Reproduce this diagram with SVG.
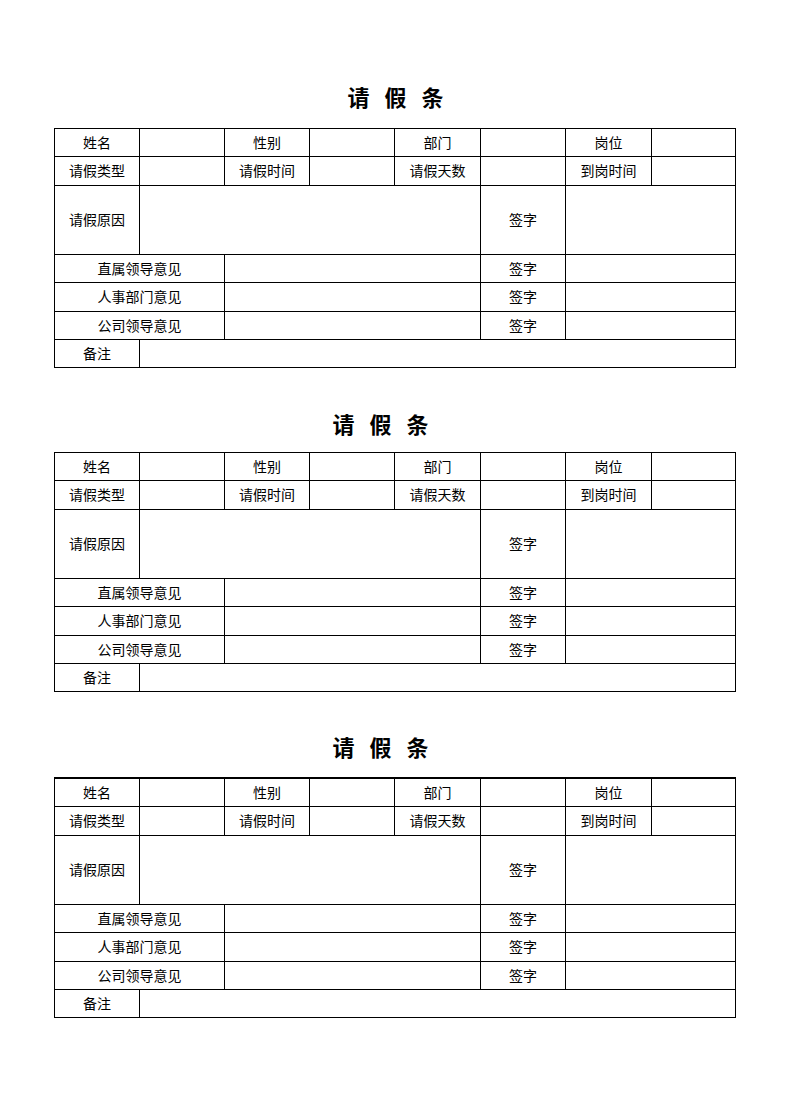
<svg xmlns="http://www.w3.org/2000/svg" width="790" height="1119" viewBox="0 0 790 1119">
<style>
.bg{fill:#fff}
.ln{stroke:#000;stroke-width:1;fill:none;shape-rendering:crispEdges}
.thick{stroke:#000;stroke-width:2;fill:none;shape-rendering:crispEdges}
.t{font-family:"Noto Sans CJK SC","Noto Sans CJK JP",sans-serif;font-size:14px;fill:#000;text-anchor:middle;dominant-baseline:central}
.title{font-family:"Noto Sans CJK SC","Noto Sans CJK JP",sans-serif;font-size:22px;font-weight:bold;fill:#000;text-anchor:middle;dominant-baseline:central;word-spacing:10px}
</style>
<defs>
<g id="grid">
<rect class="ln" x="54.5" y="128.5" width="681" height="239"/>
<path class="ln" d="M54.5 156.5H735.5M54.5 185.5H735.5M54.5 254.5H735.5M54.5 282.5H735.5M54.5 311.5H735.5M54.5 339.5H735.5
M139.5 128.5V254.5M139.5 339.5V367.5
M224.5 128.5V185.5M224.5 254.5V339.5
M309.5 128.5V185.5M394.5 128.5V185.5
M480.5 128.5V339.5M565.5 128.5V339.5M651.5 128.5V185.5"/>
</g>
<g id="labels">
<text class="t" x="97" y="141.5">姓名</text>
<text class="t" x="267" y="141.5">性别</text>
<text class="t" x="437.5" y="141.5">部门</text>
<text class="t" x="608.5" y="141.5">岗位</text>
<text class="t" x="97" y="170">请假类型</text>
<text class="t" x="267" y="170">请假时间</text>
<text class="t" x="437.5" y="170">请假天数</text>
<text class="t" x="608.5" y="170">到岗时间</text>
<text class="t" x="97" y="219">请假原因</text>
<text class="t" x="523" y="219">签字</text>
<text class="t" x="139.5" y="267.5">直属领导意见</text>
<text class="t" x="523" y="267.5">签字</text>
<text class="t" x="139.5" y="296">人事部门意见</text>
<text class="t" x="523" y="296">签字</text>
<text class="t" x="139.5" y="324.5">公司领导意见</text>
<text class="t" x="523" y="324.5">签字</text>
<text class="t" x="97" y="352.5">备注</text>
</g>
</defs>
<rect class="bg" x="0" y="0" width="790" height="1119"/>
<g id="form1">
<text class="title" x="395.5" y="95.5">请 假 条</text>
<use href="#grid"/>
<use href="#labels"/>
</g>
<g id="form2">
<text class="title" x="380.5" y="423">请 假 条</text>
<g transform="translate(0,324)">
<use href="#grid"/>
<use href="#labels"/>
</g>
</g>
<g id="form3">
<text class="title" x="380.5" y="745.5">请 假 条</text>
<g transform="translate(0,650)">
<use href="#grid"/>
<use href="#labels"/>
</g>
<line class="thick" x1="54" y1="778" x2="736" y2="778"/>
</g>
<g id="connectors"/>
</svg>
